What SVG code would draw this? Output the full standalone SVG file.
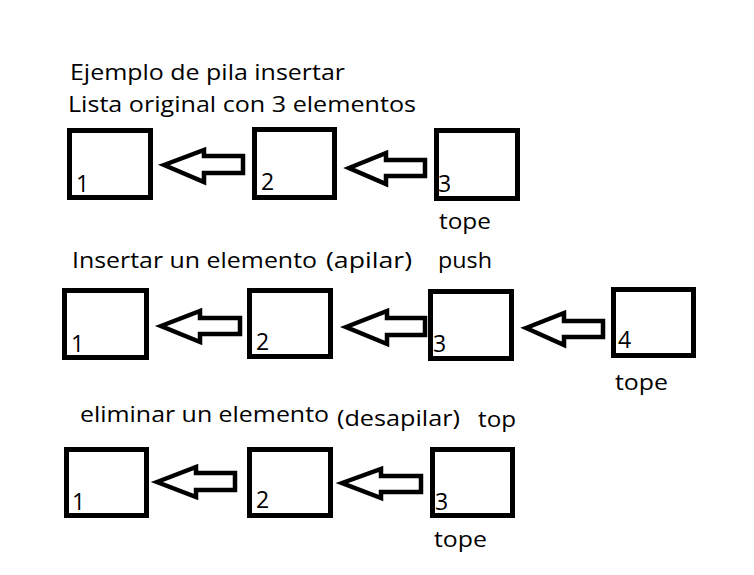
<svg xmlns="http://www.w3.org/2000/svg" width="754" height="575" viewBox="0 0 754 575">
<style>
.box{fill:#fff;stroke:#000;stroke-width:5}
.arr{fill:#fff;stroke:#000;stroke-width:4.5;stroke-linejoin:miter}
text{font-family:"Open Sans","Liberation Sans",sans-serif;font-size:21px;fill:#000}
.d{font-size:23px}
</style>
<rect width="754" height="575" fill="#fff"/>
<g id="titles">
<text x="70" y="80" textLength="275" lengthAdjust="spacingAndGlyphs">Ejemplo de pila insertar</text>
<text x="68" y="112" textLength="348" lengthAdjust="spacingAndGlyphs">Lista original con 3 elementos</text>
<text x="72" y="268" textLength="245" lengthAdjust="spacingAndGlyphs">Insertar un elemento</text>
<text x="326" y="268" textLength="86" lengthAdjust="spacingAndGlyphs">(apilar)</text>
<text x="438" y="268" textLength="54" lengthAdjust="spacingAndGlyphs">push</text>
<text x="80" y="422" textLength="249" lengthAdjust="spacingAndGlyphs">eliminar un elemento</text>
<text x="337" y="426" textLength="123" lengthAdjust="spacingAndGlyphs">(desapilar)</text>
<text x="478" y="427" textLength="38" lengthAdjust="spacingAndGlyphs">top</text>
</g>
<g id="connectors">
<polygon class="arr" points="164,165 204,150 204,156 243,156 243,173 204,173 204,182"/>
<polygon class="arr" points="349,168 386,153 386,160 425,160 425,176 386,176 386,184"/>
<polygon class="arr" points="161,326 200,311 200,318 240,318 240,334 200,334 200,342"/>
<polygon class="arr" points="346,327 387,311 387,318 425,318 425,335 387,335 387,344"/>
<polygon class="arr" points="526,328 564,313 564,321 603,321 603,337 564,337 564,345"/>
<polygon class="arr" points="157,482 196,467 196,473 235,473 235,490 196,490 196,497"/>
<polygon class="arr" points="342,483 381,469 381,476 421,476 421,492 381,492 381,498"/>
</g>
<g id="r1n1"><rect class="box" x="69.5" y="130.5" width="81" height="67"/><text class="d" x="76" y="192">1</text></g>
<g id="r1n2"><rect class="box" x="254.5" y="129.5" width="80" height="68"/><text class="d" x="261" y="190">2</text></g>
<g id="r1n3"><rect class="box" x="436.5" y="130.5" width="81" height="68"/><text class="d" x="438" y="192">3</text><text x="439" y="229" textLength="52" lengthAdjust="spacingAndGlyphs">tope</text></g>
<g id="r2n1"><rect class="box" x="64.5" y="290.5" width="82" height="67"/><text class="d" x="71" y="352">1</text></g>
<g id="r2n2"><rect class="box" x="249.5" y="290.5" width="81" height="66"/><text class="d" x="256" y="350">2</text></g>
<g id="r2n3"><rect class="box" x="430.5" y="291.5" width="81" height="67"/><text class="d" x="433" y="352">3</text></g>
<g id="r2n4"><rect class="box" x="613.5" y="289.5" width="80" height="66"/><text class="d" x="618" y="348">4</text><text x="615" y="390" textLength="53" lengthAdjust="spacingAndGlyphs">tope</text></g>
<g id="r3n1"><rect class="box" x="66.5" y="449.5" width="80" height="66"/><text class="d" x="72" y="510">1</text></g>
<g id="r3n2"><rect class="box" x="249.5" y="449.5" width="81" height="66"/><text class="d" x="256" y="508">2</text></g>
<g id="r3n3"><rect class="box" x="432.5" y="449.5" width="80" height="66"/><text class="d" x="435" y="510">3</text><text x="434" y="547" textLength="53" lengthAdjust="spacingAndGlyphs">tope</text></g>
</svg>
